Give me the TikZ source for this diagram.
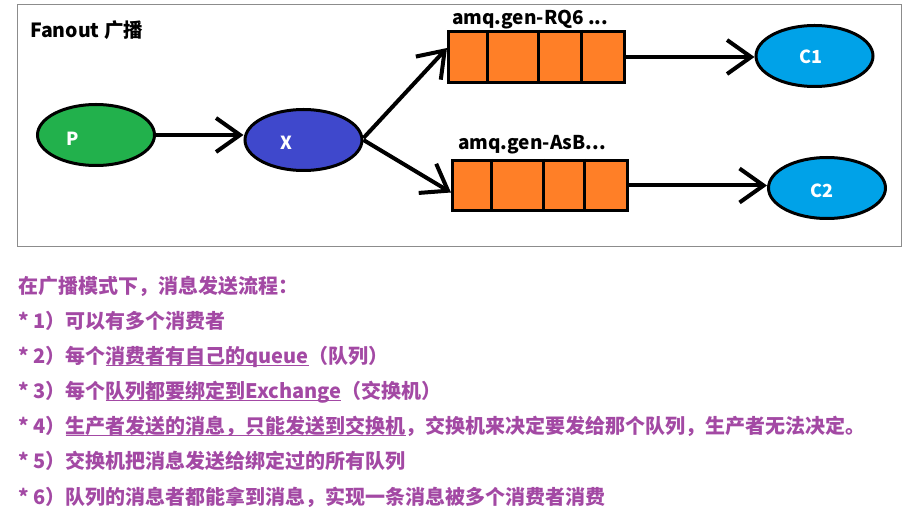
\documentclass[tikz,border=0pt]{standalone}
\usepackage{fontspec}
\setmainfont{Noto Sans CJK SC}
\usetikzlibrary{shapes.geometric,arrows.meta}
\definecolor{pgreen}{HTML}{22B14C}
\definecolor{xblue}{HTML}{3F48CC}
\definecolor{qorange}{HTML}{FF7F27}
\definecolor{ccyan}{HTML}{00A2E8}
\definecolor{tpurple}{HTML}{A349A4}
\definecolor{framegray}{HTML}{8C8C8C}
\newcommand{\myunderline}[1]{\setbox0=\hbox{#1}\rlap{\rule[-2.5pt]{\wd0}{1.3pt}}\box0}
\begin{document}
\begin{tikzpicture}[x=1pt,y=-1pt,
  ell/.style={ellipse, draw=black, line width=3pt, minimum width=117pt, minimum height=61pt, inner sep=0pt},
  lbl/.style={text=white, inner sep=0pt, font=\fontsize{18}{20}\selectfont\bfseries},
  arr/.style={line width=4pt, -{Straight Barb[length=24pt,width=34pt]}},
  queue/.style={draw=black, line width=3pt, fill=qorange, inner sep=0pt},
  divider/.style={line width=3pt},
  qlabel/.style={font=\fontsize{19}{22}\selectfont\bfseries, anchor=base west, inner sep=0pt},
  listtext/.style={font=\fontsize{20}{24}\selectfont\bfseries, text=tpurple, anchor=base west, inner sep=0pt}]
\useasboundingbox (0,0) rectangle (922,529);
\fill[white] (0,0) rectangle (922,529);
% frame
\node[draw=framegray, line width=1pt, minimum width=884pt, minimum height=242pt, inner sep=0pt] (frame) at (459,126) {};
\node[anchor=base west, inner sep=0pt, font=\fontsize{19.5}{22}\selectfont\bfseries] (title) at (30,38) {Fanout 广播};
% ellipses
\node[ell, fill=pgreen, label={[lbl, xshift=-23pt, yshift=-4pt]center:P}] (p) at (96,135) {};
\node[ell, fill=xblue, label={[lbl, xshift=-17pt, yshift=-3pt]center:X}] (x) at (303.5,140) {};
\node[ell, fill=ccyan, label={[lbl, xshift=-4pt, yshift=-1pt]center:C1}] (c1) at (814.5,56) {};
\node[ell, fill=ccyan, label={[lbl, xshift=-5pt, yshift=-3pt]center:C2}] (c2) at (827,188) {};
% queues
\node[queue, minimum width=176pt, minimum height=51pt] (q1) at (536.5,57) {};
\draw[divider] ([xshift=40pt]q1.north west) -- ([xshift=40pt]q1.south west);
\draw[divider] ([xshift=91pt]q1.north west) -- ([xshift=91pt]q1.south west);
\draw[divider] ([xshift=134pt]q1.north west) -- ([xshift=134pt]q1.south west);
\node[queue, minimum width=175pt, minimum height=50pt] (q2) at (540,185.5) {};
\draw[divider] ([xshift=40pt]q2.north west) -- ([xshift=40pt]q2.south west);
\draw[divider] ([xshift=92pt]q2.north west) -- ([xshift=92pt]q2.south west);
\draw[divider] ([xshift=133pt]q2.north west) -- ([xshift=133pt]q2.south west);
\node[qlabel] (q1lbl) at (452,25) {amq.gen-RQ6 ...};
\node[qlabel] (q2lbl) at (458,150) {amq.gen-AsB...};
% arrows
\draw[arr] (p.east) -- (p.east -| x.west);
\draw[arr] ([yshift=2pt]x.east) -- ([yshift=9pt]q1.west);
\draw[arr] (x.east) -- ([yshift=-7pt]q2.west);
\draw[arr] (q1.east) -- (q1.east -| c1.west);
\draw[arr] (q2.east) -- (q2.east -| c2.west);
% text
\node[listtext] (l0) at (18,294) {在广播模式下，消息发送流程：};
\node[listtext] (l1) at (18,329) {* 1）可以有多个消费者};
\node[listtext] (l2) at (18,364) {* 2）每个\myunderline{消费者有自己的queue}（队列）};
\node[listtext] (l3) at (18,399) {* 3）每个\myunderline{队列都要绑定到Exchange}（交换机）};
\node[listtext] (l4) at (18,434) {* 4）\myunderline{生产者发送的消息，只能发送到交换机}，交换机来决定要发给那个队列，生产者无法决定。};
\node[listtext] (l5) at (18,469) {* 5）交换机把消息发送给绑定过的所有队列};
\node[listtext] (l6) at (18,504) {* 6）队列的消息者都能拿到消息，实现一条消息被多个消费者消费};
\end{tikzpicture}
\end{document}
